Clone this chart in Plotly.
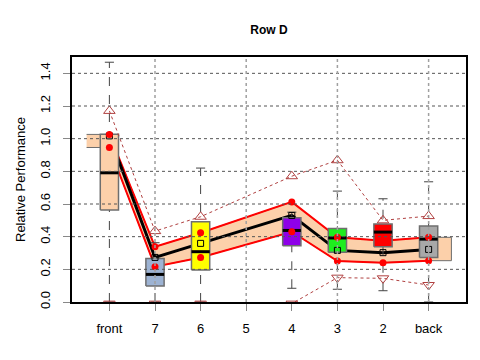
import plotly.graph_objects as go

# ---- data ----
rows      = ["front", "7", "6", "5", "4", "3", "2", "back"]
q1        = [0.563, 0.098, 0.196, None, 0.344, 0.304, 0.338, 0.273]
med       = [0.791, 0.169, 0.308, None, 0.438, 0.392, 0.428, 0.385]
q3        = [1.027, 0.267, 0.491, None, 0.516, 0.450, 0.477, 0.465]
whisk_lo  = [0.000, 0.000, 0.000, None, 0.084, 0.078, 0.069, 0.000]
whisk_hi  = [1.468, 0.363, 0.820, None, 0.550, 0.679, 0.632, 0.736]
mean_val  = [1.017, 0.273, 0.359, None, 0.530, 0.316, 0.302, 0.322]
band_hi   = [1.026, 0.338, 0.424, None, 0.613, 0.396, 0.375, 0.396]
band_lo   = [0.946, 0.216, 0.273, None, 0.430, 0.251, 0.241, 0.253]
tri_up    = [1.170, 0.434, 0.522, None, 0.770, 0.868, 0.500, 0.526]
tri_dn    = [-0.01, -0.01, -0.01, None, -0.01, 0.149, 0.145, 0.104]
y_ticks   = [0.0, 0.2, 0.4, 0.6, 0.8, 1.0, 1.2, 1.4]
x_grid    = [2, 4, 6, 8]

# ---- styles ----
PEACH     = "#FCD0AA"
box_fill  = ["#FCD0AA", "#9DB3D3", "#FFFF00", None, "#8E00E8", "#1EEE1E", "#FF0000", "#A8A8A8"]
BORDER    = "#6E6E6E"
TRI       = "#B04040"
FONT      = "Liberation Sans, Arial, sans-serif"

pos = list(range(1, len(rows) + 1))
fig = go.Figure()

# band polygon, flat half-step at each end
idx  = [i for i in range(len(rows)) if band_hi[i] is not None]
bx   = [pos[idx[0]] - 0.5] + [pos[i] for i in idx] + [pos[idx[-1]] + 0.5]
bup  = [band_hi[idx[0]]] + [band_hi[i] for i in idx] + [band_hi[idx[-1]]]
blo  = [band_lo[idx[0]]] + [band_lo[i] for i in idx] + [band_lo[idx[-1]]]
fig.add_trace(go.Scatter(x=bx + bx[::-1], y=bup + blo[::-1], mode="lines",
                         fill="toself", fillcolor=PEACH,
                         line=dict(color=BORDER, width=1)))

for ys in (band_hi, band_lo):
    fig.add_trace(go.Scatter(x=pos, y=ys, mode="lines", connectgaps=True,
                             line=dict(color="#FF0000", width=2)))

fig.add_trace(go.Scatter(x=pos, y=mean_val, mode="lines", connectgaps=True,
                         line=dict(color="black", width=3)))

# boxplots
hw, cw = 0.2, 0.1
for i in range(len(rows)):
    if q1[i] is None:
        continue
    p = pos[i]
    fig.add_trace(go.Scatter(x=[p, p], y=[whisk_lo[i], whisk_hi[i]], mode="lines",
                             line=dict(color="#444444", width=1, dash="dash")))
    fig.add_trace(go.Scatter(x=[p - cw, p + cw, None, p - cw, p + cw],
                             y=[whisk_lo[i], whisk_lo[i], None, whisk_hi[i], whisk_hi[i]],
                             mode="lines", line=dict(color="#444444", width=1)))
    fig.add_trace(go.Scatter(x=[p - hw, p + hw, p + hw, p - hw, p - hw],
                             y=[q1[i], q1[i], q3[i], q3[i], q1[i]],
                             mode="lines", fill="toself", fillcolor=box_fill[i],
                             line=dict(color=BORDER, width=1.5)))
    fig.add_trace(go.Scatter(x=[p - hw, p + hw], y=[med[i], med[i]], mode="lines",
                             line=dict(color="black", width=3)))

# triangles with dotted connectors
fig.add_trace(go.Scatter(x=pos, y=tri_up, mode="lines+markers", connectgaps=True,
                         line=dict(color=TRI, width=1, dash="dot"),
                         marker=dict(symbol="triangle-up-open", size=10,
                                     color=TRI, line=dict(width=1, color=TRI))))
fig.add_trace(go.Scatter(x=pos, y=tri_dn, mode="lines+markers", connectgaps=True,
                         line=dict(color=TRI, width=1, dash="dot"),
                         marker=dict(symbol="triangle-down-open", size=10,
                                     color=TRI, line=dict(width=1, color=TRI))))

# means and band points
fig.add_trace(go.Scatter(x=pos, y=mean_val, mode="markers",
                         marker=dict(symbol="square-open", size=6, color="black",
                                     line=dict(width=1, color="black"))))
fig.add_trace(go.Scatter(x=pos + pos, y=band_hi + band_lo, mode="markers",
                         marker=dict(symbol="circle", size=7, color="#FF0000")))

# dotted grid drawn above the data
for v in y_ticks[1:]:
    fig.add_shape(type="line", xref="paper", x0=0, x1=1, yref="y", y0=v, y1=v,
                  line=dict(color="#555555", width=1, dash="dot"), layer="above")
for v in x_grid:
    fig.add_shape(type="line", yref="paper", y0=0, y1=1, xref="x", x0=v, x1=v,
                  line=dict(color="#A0A0A0", width=1.5, dash="dot"), layer="above")

# the page body adds an 8px offset, margins compensate for it
fig.update_layout(
    width=480, height=360,
    margin=dict(l=64, r=22, t=49, b=66),
    showlegend=False,
    paper_bgcolor="white", plot_bgcolor="white",
    font=dict(family=FONT, color="black", size=13),
    title=dict(text="<b>Row D</b>", x=0.5, xref="paper", xanchor="center",
               y=1 - 22 / 360, yanchor="middle", font=dict(size=12)),
)
fig.update_xaxes(range=[0.18, 8.82], tickvals=pos, ticktext=rows,
                 ticks="outside", ticklen=7, tickcolor="#888888",
                 showline=True, linecolor="black", linewidth=2, mirror=True,
                 showgrid=False, zeroline=False, ticklabelstandoff=6,
                 automargin=False, tickfont=dict(size=13))
fig.update_yaxes(range=[0, 1.5], tickvals=y_ticks,
                 ticktext=["%.1f" % v for v in y_ticks], tickangle=-90,
                 ticks="outside", ticklen=7, tickcolor="#888888",
                 showline=True, linecolor="black", linewidth=2, mirror=True,
                 showgrid=False, zeroline=False, ticklabelstandoff=8,
                 automargin=False, tickfont=dict(size=13),
                 title=dict(text="Relative Performance", font=dict(size=13), standoff=9))

fig.write_html("out.html")
